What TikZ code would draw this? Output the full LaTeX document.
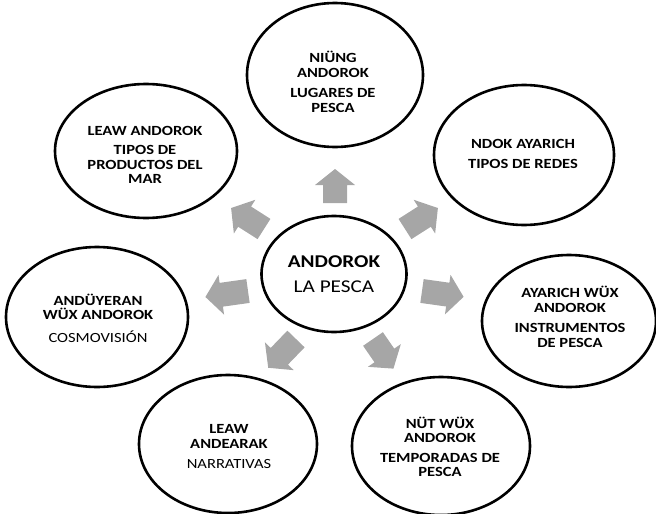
\documentclass[tikz,border=0pt]{standalone}
\usepackage{fontspec}
\setmainfont{Carlito}[FakeStretch=1.18]
\usetikzlibrary{shapes.geometric}
\definecolor{arrowgray}{HTML}{A6A6A6}
\tikzset{
  circ/.style={draw=black, line width=2.6pt, ellipse, fill=white, inner sep=0pt},
  lbl/.style={align=center, font=\fontsize{14}{14.5}\selectfont\bfseries, inner sep=0pt},
  pics/barrow/.style={code={\fill[arrowgray] (0,-12) -- (#1-16,-12) -- (#1-16,-20) -- (#1,0) -- (#1-16,20) -- (#1-16,12) -- (0,12) -- cycle;}}
}
\begin{document}
\begin{tikzpicture}[x=1pt,y=-1pt]
\useasboundingbox (0,0) rectangle (656,514);
% ellipses
\node[circ, minimum width=176, minimum height=144] (top) at (335,75) {};
\node[circ, minimum width=182, minimum height=134] (tl) at (146,151) {};
\node[circ, minimum width=180, minimum height=140] (tr) at (524,155) {};
\node[circ, minimum width=145, minimum height=116] (c) at (334,274) {};
\node[circ, minimum width=182, minimum height=140] (l) at (97,317) {};
\node[circ, minimum width=174, minimum height=132] (r) at (569,321) {};
\node[circ, minimum width=178, minimum height=138] (bl) at (228,444) {};
\node[circ, minimum width=178, minimum height=138] (br) at (441,446) {};
% arrows
\pic[rotate=90] at (335,203) {barrow=34};
\pic[rotate=147.5] at (264,229) {barrow=39};
\pic[rotate=32.5] at (405,229) {barrow=39};
\pic[rotate=188] at (248,291) {barrow=43};
\pic[rotate=-8] at (422,291) {barrow=42};
\pic[rotate=226] at (296,339) {barrow=40};
\pic[rotate=-55.4] at (373,339) {barrow=36};
% labels
\node[lbl] (ttop) at (333,82) {NIÜNG\\ANDOROK\\[6pt]LUGARES DE\\PESCA};
\node[lbl] (ttl) at (145,155) {LEAW ANDOROK\\[5pt]TIPOS DE\\PRODUCTOS DEL\\MAR};
\node[lbl] (ttr) at (523,154) {NDOK AYARICH\\[5pt]TIPOS DE REDES};
\node[lbl, font=\fontsize{18}{25}\selectfont] (tc) at (334,274) {\bfseries ANDOROK\\LA PESCA};
\node[lbl] (tl2) at (98,318) {ANDÜYERAN\\WÜX ANDOROK\\[8pt]\mdseries COSMOVISIÓN};
\node[lbl] (tr2) at (570,317) {AYARICH WÜX\\ANDOROK\\[6pt]INSTRUMENTOS\\DE PESCA};
\node[lbl] (tbl) at (229,447) {LEAW\\ANDEARAK\\[6pt]\mdseries NARRATIVAS};
\node[lbl] (tbr) at (440,447) {NÜT WÜX\\ANDOROK\\[5pt]TEMPORADAS DE\\PESCA};
\end{tikzpicture}
\end{document}
